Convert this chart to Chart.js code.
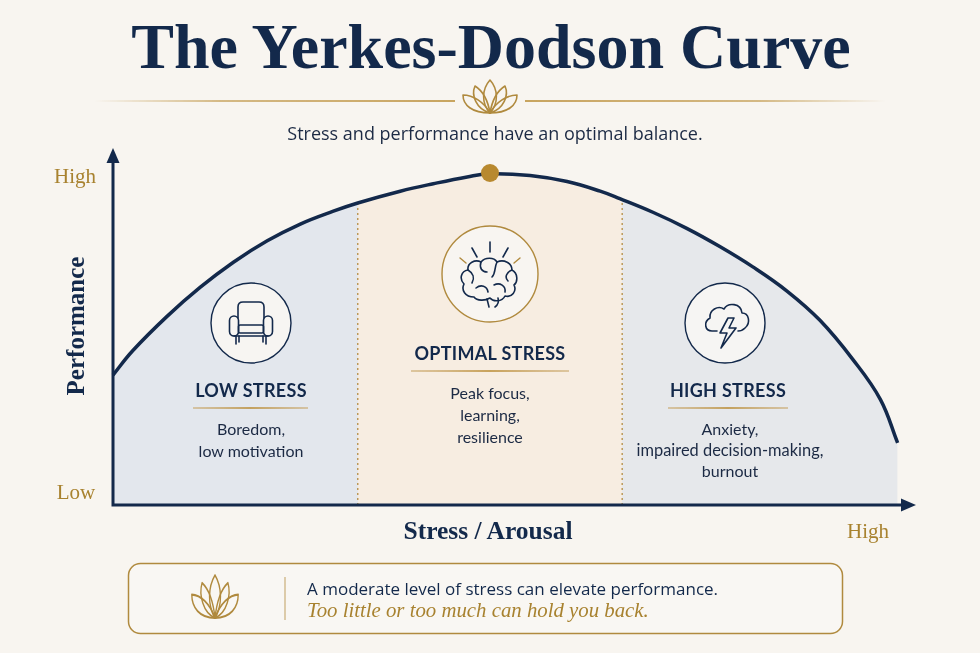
<!DOCTYPE html>
<html>
<head>
<meta charset="utf-8">
<script src="https://cdn.jsdelivr.net/npm/chart.js@4.4.1/dist/chart.umd.min.js"></script>
<style>
  html, body { margin:0; padding:0; }
  body { width:980px; height:653px; overflow:hidden; background:#f8f5f0; position:relative; font-family:Lato, "Open Sans", sans-serif; }
  #c { position:absolute; left:0; top:0; }
  svg.ov { position:absolute; left:0; top:0; pointer-events:none; }
  .t { position:absolute; white-space:nowrap; transform:translate(-50%,-50%); line-height:1; color:#13294b; }
  .serifb { font-family:"Liberation Serif", "DejaVu Serif", serif; font-weight:bold; }
  .gold { color:#a8822f; font-family:"Liberation Serif", serif; font-size:21px; }
  .hdr { font-family:Lato, sans-serif; font-weight:bold; font-size:18px; letter-spacing:0.3px; }
  .body { font-family:Lato, sans-serif; font-size:16px; color:#1c2a44; }
</style>
</head>
<body>
<canvas id="c" width="980" height="653" style="width:980px;height:653px"></canvas>

<svg class="ov" width="980" height="653" viewBox="0 0 980 653">
  <defs>
    <linearGradient id="divL" gradientUnits="userSpaceOnUse" x1="95" y1="0" x2="455" y2="0">
      <stop offset="0" stop-color="#b8892f" stop-opacity="0"/>
      <stop offset="0.35" stop-color="#b8892f" stop-opacity="0.75"/>
      <stop offset="1" stop-color="#b8892f" stop-opacity="1"/>
    </linearGradient>
    <linearGradient id="divR" gradientUnits="userSpaceOnUse" x1="525" y1="0" x2="885" y2="0">
      <stop offset="0" stop-color="#b8892f" stop-opacity="1"/>
      <stop offset="0.65" stop-color="#b8892f" stop-opacity="0.75"/>
      <stop offset="1" stop-color="#b8892f" stop-opacity="0"/>
    </linearGradient>
    <linearGradient id="ul1" gradientUnits="userSpaceOnUse" x1="193" y1="0" x2="308" y2="0">
      <stop offset="0" stop-color="#c6a262" stop-opacity="0.7"/>
      <stop offset="0.5" stop-color="#b8892f"/>
      <stop offset="1" stop-color="#c6a262" stop-opacity="0.7"/>
    </linearGradient>
    <linearGradient id="ul2" gradientUnits="userSpaceOnUse" x1="411" y1="0" x2="569" y2="0">
      <stop offset="0" stop-color="#c6a262" stop-opacity="0.7"/>
      <stop offset="0.5" stop-color="#b8892f"/>
      <stop offset="1" stop-color="#c6a262" stop-opacity="0.7"/>
    </linearGradient>
    <linearGradient id="ul3" gradientUnits="userSpaceOnUse" x1="668" y1="0" x2="788" y2="0">
      <stop offset="0" stop-color="#c6a262" stop-opacity="0.7"/>
      <stop offset="0.5" stop-color="#b8892f"/>
      <stop offset="1" stop-color="#c6a262" stop-opacity="0.7"/>
    </linearGradient>
    <g id="lotus" fill="none" stroke="#b08a3e" stroke-width="1.6" stroke-linejoin="round">
      <path d="M0,0 C-9,-10 -8,-24 0,-33 C8,-24 9,-10 0,0 Z"/>
      <path d="M0,0 C-14,-4 -19,-18 -15,-27 C-7,-22 -2,-12 0,0 Z"/>
      <path d="M0,0 C14,-4 19,-18 15,-27 C7,-22 2,-12 0,0 Z"/>
      <path d="M0,0 C-18,0 -27,-8 -27,-18 C-17,-18 -6,-11 0,0 Z"/>
      <path d="M0,0 C18,0 27,-8 27,-18 C17,-18 6,-11 0,0 Z"/>
    </g>
  </defs>

  <!-- header divider -->
  <line x1="95" y1="101" x2="455" y2="101" stroke="url(#divL)" stroke-width="1.6"/>
  <line x1="525" y1="101" x2="885" y2="101" stroke="url(#divR)" stroke-width="1.6"/>
  <use href="#lotus" transform="translate(490,113)"/>

  <!-- zone icon circles -->
  <circle cx="251" cy="323" r="40" fill="#f7f5f2" stroke="#13294b" stroke-width="1.4"/>
  <circle cx="490" cy="274" r="48" fill="#f8f5f1" stroke="#b08a3e" stroke-width="1.4"/>
  <circle cx="725" cy="323" r="40" fill="#f6f5f3" stroke="#13294b" stroke-width="1.4"/>

  <!-- armchair -->
  <g fill="none" stroke="#13294b" stroke-width="1.6" stroke-linejoin="round" stroke-linecap="round">
    <path d="M238,318 L238,307 Q238,302 243,302 L259,302 Q264,302 264,307 L264,318"/>
    <rect x="229.5" y="316" width="9" height="20" rx="4.5"/>
    <rect x="263.5" y="316" width="9" height="20" rx="4.5"/>
    <rect x="238.5" y="325" width="25" height="8" rx="1.5"/>
    <line x1="234" y1="336" x2="268" y2="336"/>
    <line x1="236" y1="336" x2="236" y2="344"/>
    <line x1="239" y1="336" x2="239" y2="342"/>
    <line x1="266" y1="336" x2="266" y2="344"/>
    <line x1="263" y1="336" x2="263" y2="342"/>
  </g>

  <!-- brain with rays -->
  <g fill="none" stroke="#13294b" stroke-width="1.6" stroke-linecap="round" stroke-linejoin="round">
    <line x1="490" y1="242" x2="490" y2="252"/>
    <line x1="472" y1="248" x2="477" y2="257"/>
    <line x1="508" y1="248" x2="503" y2="257"/>
    <path d="M474,297 C465,297 461,290 464,284 C459,279 461,271 468,270 C467,263 475,259 481,262 C485,257 494,257 497,262 C504,259 512,263 512,270 C518,273 518,282 514,285 C517,291 512,298 505,296 C502,302 493,302 490,298 C485,301 477,301 474,297 Z"/>
    <path d="M481,262 C479,268 482,272 487,272"/>
    <path d="M497,262 C494,268 496,273 492,277"/>
    <path d="M468,270 C473,273 475,278 472,283"/>
    <path d="M512,270 C507,272 504,277 508,281"/>
    <path d="M476,288 C481,284 487,286 488,292"/>
    <path d="M494,285 C500,282 506,286 505,292"/>
    <path d="M487,299 L489,307"/>
    <path d="M498,298 C499,302 498,305 495,307"/>
  </g>
  <g stroke="#b08a3e" stroke-width="1.4" stroke-linecap="round">
    <line x1="460" y1="258" x2="466" y2="263"/>
    <line x1="520" y1="258" x2="514" y2="263"/>
  </g>

  <!-- storm cloud -->
  <g fill="none" stroke="#13294b" stroke-width="1.6" stroke-linejoin="round" stroke-linecap="round">
    <path d="M717,331 L712,331 C705,331 703,322 710,318 C709,310 718,305 724,309 C728,302 741,303 742,313 C749,313 751,323 745,328 C743,330 741,331 738,331"/>
    <path d="M728,318 L720,333 L727,333 L721,348 L736,328 L729,328 L734,318 Z"/>
  </g>

  <!-- zone underlines -->
  <line x1="193" y1="408" x2="308" y2="408" stroke="url(#ul1)" stroke-width="1.6"/>
  <line x1="411" y1="371" x2="569" y2="371" stroke="url(#ul2)" stroke-width="1.6"/>
  <line x1="668" y1="408" x2="788" y2="408" stroke="url(#ul3)" stroke-width="1.6"/>

  <!-- bottom box -->
  <rect x="128.5" y="563.5" width="714" height="70" rx="12" fill="#f9f7f3" stroke="#b08a3e" stroke-width="1.5"/>
  <use href="#lotus" transform="translate(215,618) scale(0.86,1.3)"/>
  <line x1="285" y1="577" x2="285" y2="620" stroke="#c9ad78" stroke-width="1.2"/>
</svg>

<div class="t serifb" style="left:491px;top:47px;font-size:64px;">The Yerkes-Dodson Curve</div>
<div class="t" style="left:495px;top:133px;font-family:'Open Sans',sans-serif;font-size:18px;color:#1c2a44;">Stress and performance have an optimal balance.</div>

<div class="t gold" style="left:75px;top:176px;">High</div>
<div class="t gold" style="left:76px;top:492px;">Low</div>
<div class="t serifb" style="left:75px;top:326px;font-size:25px;transform:translate(-50%,-50%) rotate(-90deg);">Performance</div>
<div class="t serifb" style="left:488px;top:531px;font-size:25.5px;">Stress / Arousal</div>
<div class="t gold" style="left:868px;top:531px;">High</div>

<div class="t hdr" style="left:251px;top:390px;">LOW STRESS</div>
<div class="t body" style="left:251px;top:429px;">Boredom,</div>
<div class="t body" style="left:251px;top:451px;">low motivation</div>

<div class="t hdr" style="left:490px;top:353px;">OPTIMAL STRESS</div>
<div class="t body" style="left:490px;top:393px;">Peak focus,</div>
<div class="t body" style="left:490px;top:415px;">learning,</div>
<div class="t body" style="left:490px;top:437px;">resilience</div>

<div class="t hdr" style="left:728px;top:390px;">HIGH STRESS</div>
<div class="t body" style="left:730px;top:429px;">Anxiety,</div>
<div class="t body" style="left:730px;top:450px;font-size:16.4px;">impaired decision-making,</div>
<div class="t body" style="left:730px;top:471px;">burnout</div>

<div class="t" style="left:307px;top:588px;transform:translate(0,-50%);font-family:'Open Sans',sans-serif;font-size:17px;color:#13294b;">A moderate level of stress can elevate performance.</div>
<div class="t" style="left:307px;top:610px;transform:translate(0,-50%);font-family:'Liberation Serif',serif;font-style:italic;font-size:20.8px;color:#a8822f;">Too little or too much can hold you back.</div>

<script>
// ---- data ----
const stress      = [0, 2.5, 6.9, 11.1, 15.3, 19.6, 23.8, 28.0, 31.1, 36.5, 40.7, 45.0, 47.9, 53.0, 57.7, 61.9, 64.4, 68.6, 72.9, 77.1, 81.3, 85.6, 89.8, 94.0, 97.5, 99.7];
const performance = [36.4, 43.2, 52.9, 61.0, 68.0, 74.0, 78.7, 82.3, 84.6, 87.9, 90.0, 91.9, 92.8, 92.3, 90.6, 87.9, 85.8, 82.0, 77.5, 72.4, 66.7, 60.0, 51.8, 40.8, 29.6, 17.4];
const zoneEdges   = [0, 31.1, 64.7, 100];
const zoneColors  = ['#e3e7ed', '#f7ede1', '#e6e8eb'];
const dividerX    = [31.1, 64.7];
const dividerTop  = [84.6, 85.6];
const peakX = [47.9];
const peakY = [93.0];

const NAVY = '#13294b';
const GOLD = '#b8892f';

const curve = stress.map((x, i) => ({ x, y: performance[i] }));

function zoneFill(ctx) {
  const chart = ctx.chart;
  const ca = chart.chartArea;
  if (!ca) return zoneColors[0];
  const xs = chart.scales.x;
  const g = chart.ctx.createLinearGradient(ca.left, 0, ca.right, 0);
  for (let i = 0; i < zoneColors.length; i++) {
    const a = (xs.getPixelForValue(zoneEdges[i]) - ca.left) / ca.width;
    const b = (xs.getPixelForValue(zoneEdges[i + 1]) - ca.left) / ca.width;
    g.addColorStop(Math.max(0, Math.min(1, a)), zoneColors[i]);
    g.addColorStop(Math.max(0, Math.min(1, b - 0.0001)), zoneColors[i]);
  }
  return g;
}

const datasets = [
  {
    data: curve, order: 1,
    borderColor: NAVY, borderWidth: 3.5, pointRadius: 0,
    tension: 0.4,
    fill: 'origin', backgroundColor: zoneFill, clip: false
  },
  {
    data: peakX.map((x, i) => ({ x, y: peakY[i] })), order: 0,
    showLine: false, pointRadius: 9, pointHoverRadius: 9,
    pointBackgroundColor: GOLD, pointBorderWidth: 0, clip: false
  }
];
dividerX.forEach((x, i) => {
  datasets.push({
    data: [{ x, y: 0 }, { x, y: dividerTop[i] }], order: 2,
    borderColor: '#b99450', borderWidth: 1.4, borderDash: [2, 3],
    pointRadius: 0, fill: false
  });
});

const axesPlugin = {
  id: 'axes',
  afterDatasetsDraw(chart) {
    const { ctx, chartArea: ca } = chart;
    ctx.save();
    ctx.strokeStyle = NAVY; ctx.fillStyle = NAVY;
    ctx.lineWidth = 3; ctx.lineCap = 'butt';
    ctx.beginPath();
    ctx.moveTo(ca.left, ca.bottom + 1.5);
    ctx.lineTo(ca.left, ca.top + 10);
    ctx.moveTo(ca.left - 1.5, ca.bottom);
    ctx.lineTo(ca.right + 4, ca.bottom);
    ctx.stroke();
    ctx.beginPath();
    ctx.moveTo(ca.left, ca.top);
    ctx.lineTo(ca.left - 6.5, ca.top + 15);
    ctx.lineTo(ca.left + 6.5, ca.top + 15);
    ctx.closePath(); ctx.fill();
    ctx.beginPath();
    ctx.moveTo(ca.right + 16, ca.bottom);
    ctx.lineTo(ca.right + 1, ca.bottom - 6.5);
    ctx.lineTo(ca.right + 1, ca.bottom + 6.5);
    ctx.closePath(); ctx.fill();
    ctx.restore();
  }
};

new Chart(document.getElementById('c'), {
  type: 'line',
  data: { datasets },
  options: {
    responsive: false,
    animation: false,
    events: [],
    layout: { padding: { left: 113, right: 80, top: 148, bottom: 148 } },
    scales: {
      x: { type: 'linear', min: 0, max: 100, display: false },
      y: { type: 'linear', min: 0, max: 100, display: false }
    },
    plugins: {
      legend: { display: false },
      tooltip: { enabled: false },
      filler: { drawTime: 'beforeDatasetsDraw' }
    }
  },
  plugins: [axesPlugin]
});
</script>
</body>
</html>
